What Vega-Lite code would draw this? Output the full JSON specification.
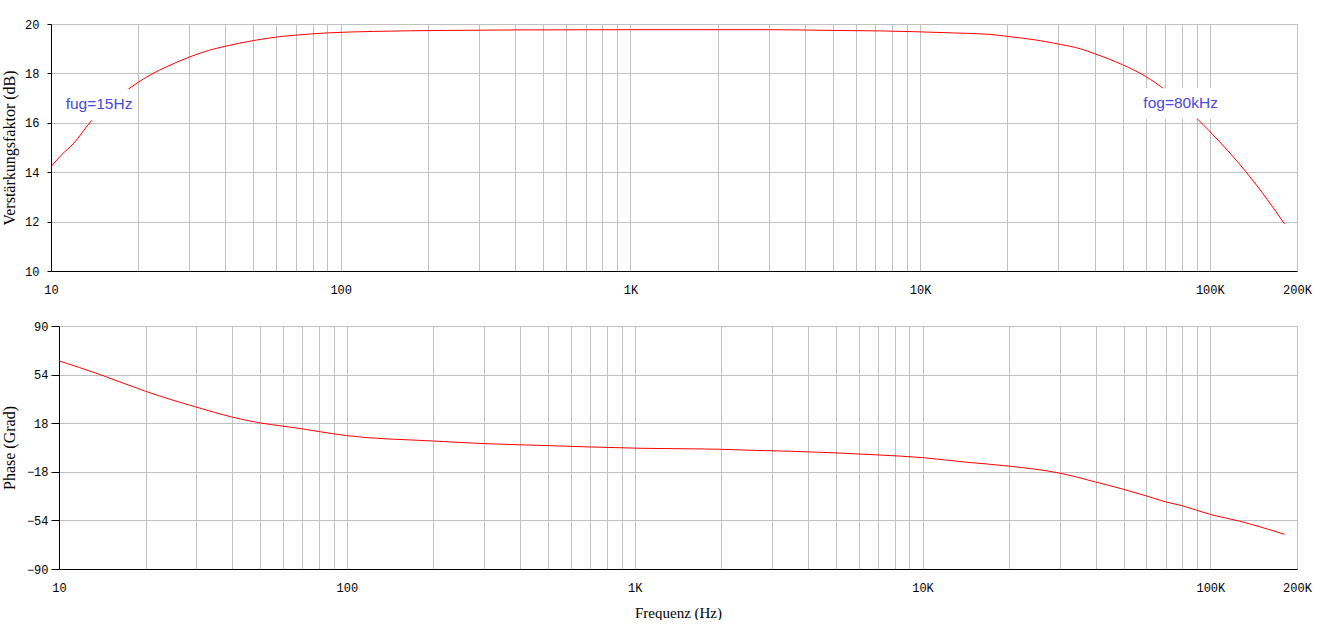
{
  "$schema": "https://vega.github.io/schema/vega-lite/v6.json",
  "background": "white",
  "padding": {"left": 1, "top": 18, "right": 0, "bottom": 0},
  "autosize": {"type": "pad"},
  "spacing": 25,
  "datasets": {
    "gain": [
      {"f": 10, "db": 14.22}, {"f": 10.83, "db": 14.68}, {"f": 12, "db": 15.18}, {"f": 13.67, "db": 16.03},
      {"f": 18, "db": 17.26}, {"f": 20, "db": 17.64}, {"f": 22.5, "db": 18.0}, {"f": 25, "db": 18.26},
      {"f": 30, "db": 18.66}, {"f": 35, "db": 18.93}, {"f": 40, "db": 19.1}, {"f": 50, "db": 19.33},
      {"f": 60, "db": 19.47}, {"f": 70, "db": 19.55}, {"f": 90, "db": 19.64}, {"f": 130, "db": 19.7},
      {"f": 234, "db": 19.74}, {"f": 400, "db": 19.76}, {"f": 1000, "db": 19.77}, {"f": 3000, "db": 19.77},
      {"f": 5000, "db": 19.74}, {"f": 7300, "db": 19.72}, {"f": 9500, "db": 19.69}, {"f": 12900, "db": 19.64},
      {"f": 17400, "db": 19.58}, {"f": 20000, "db": 19.5}, {"f": 25500, "db": 19.34}, {"f": 30000, "db": 19.19},
      {"f": 35900, "db": 18.99}, {"f": 40000, "db": 18.8}, {"f": 50000, "db": 18.35}, {"f": 60000, "db": 17.88},
      {"f": 70000, "db": 17.34}, {"f": 90000, "db": 16.19}, {"f": 100000, "db": 15.65}, {"f": 133000, "db": 14.03},
      {"f": 158000, "db": 12.89}, {"f": 181000, "db": 11.91}
    ],
    "phase": [
      {"f": 10, "deg": 64.2}, {"f": 13.9, "deg": 54}, {"f": 20, "deg": 41.6}, {"f": 30, "deg": 29.9},
      {"f": 40, "deg": 22.5}, {"f": 50, "deg": 18.2}, {"f": 60, "deg": 15.8}, {"f": 70, "deg": 13.8},
      {"f": 80, "deg": 11.8}, {"f": 100, "deg": 8.8}, {"f": 200, "deg": 4.8}, {"f": 300, "deg": 2.9},
      {"f": 500, "deg": 1.4}, {"f": 700, "deg": 0.4}, {"f": 1060, "deg": -0.6}, {"f": 1750, "deg": -1.1},
      {"f": 2000, "deg": -1.35}, {"f": 2600, "deg": -2.1}, {"f": 3500, "deg": -2.8}, {"f": 5000, "deg": -4.0},
      {"f": 7000, "deg": -5.5}, {"f": 10000, "deg": -7.5}, {"f": 14200, "deg": -10.9}, {"f": 20000, "deg": -13.8},
      {"f": 30000, "deg": -19.0}, {"f": 40000, "deg": -25.6}, {"f": 50000, "deg": -31.0}, {"f": 60000, "deg": -35.9},
      {"f": 70000, "deg": -40.3}, {"f": 80000, "deg": -43.2}, {"f": 100000, "deg": -49.6}, {"f": 126000, "deg": -54.5},
      {"f": 181000, "deg": -64.3}
    ],
    "notes": [
      {"label": "fug=15Hz", "f": 14.65, "db": 16.75, "f1": 10.8, "f2": 19.8, "db1": 16.1, "db2": 17.36},
      {"label": "fog=80kHz", "f": 79300, "db": 16.8, "f1": 56500, "f2": 111000, "db1": 16.17, "db2": 17.4}
    ]
  },
  "config": {
    "view": {"stroke": null},
    "axis": {
      "domainColor": "black",
      "domainWidth": 1,
      "gridColor": "#c0c0c0",
      "gridWidth": 1,
      "gridOpacity": 1,
      "tickColor": "black",
      "labelFont": "Liberation Mono",
      "labelFontSize": 12,
      "labelColor": "black",
      "titleFont": "Liberation Serif",
      "titleFontSize": 16,
      "titleFontWeight": "normal",
      "titleColor": "black"
    },
    "axisX": {
      "values": [10,20,30,40,50,60,70,80,90,100,200,300,400,500,600,700,800,900,1000,2000,3000,4000,5000,6000,7000,8000,9000,10000,20000,30000,40000,50000,60000,70000,80000,90000,100000,200000],
      "labelExpr": "datum.value == 10 ? '10' : datum.value == 100 ? '100' : datum.value == 1000 ? '1K' : datum.value == 10000 ? '10K' : datum.value == 100000 ? '100K' : datum.value == 200000 ? '200K' : ''",
      "tickOpacity": {"condition": {"test": "datum.value == 10 || datum.value == 100 || datum.value == 1000 || datum.value == 10000 || datum.value == 100000 || datum.value == 200000", "value": 1}, "value": 0},
      "tickSize": 5,
      "labelPadding": 8,
      "labelFlush": false,
      "labelOverlap": false
    }
  },
  "vconcat": [
    {
      "width": 1246,
      "height": 247,
      "layer": [
        {
          "data": {"name": "gain"},
          "mark": {"type": "line", "color": "#ff0000", "strokeWidth": 1, "interpolate": "monotone"},
          "encoding": {
            "x": {
              "field": "f", "type": "quantitative",
              "scale": {"type": "log", "domain": [10, 200000], "nice": false},
              "axis": {"title": null}
            },
            "y": {
              "field": "db", "type": "quantitative",
              "scale": {"domain": [10, 20], "nice": false, "zero": false},
              "axis": {
                "title": "Verstärkungsfaktor (dB)",
                "values": [10, 12, 14, 16, 18, 20],
                "tickSize": 4,
                "labelPadding": 8,
                "minExtent": 27,
                "maxExtent": 27,
                "titlePadding": 7
              }
            }
          }
        },
        {
          "data": {"name": "notes"},
          "mark": {"type": "rect", "fill": "white", "stroke": null},
          "encoding": {
            "x": {"field": "f1", "type": "quantitative", "axis": {"title": null}},
            "x2": {"field": "f2"},
            "y": {
              "field": "db1", "type": "quantitative",
              "axis": {
                "title": "Verstärkungsfaktor (dB)",
                "values": [10, 12, 14, 16, 18, 20],
                "tickSize": 4,
                "labelPadding": 8,
                "minExtent": 27,
                "maxExtent": 27,
                "titlePadding": 7
              }
            },
            "y2": {"field": "db2"}
          }
        },
        {
          "data": {"name": "notes"},
          "mark": {"type": "text", "font": "Liberation Sans", "fontSize": 15.5, "color": "#4848dd", "baseline": "middle", "align": "center"},
          "encoding": {
            "x": {"field": "f", "type": "quantitative", "axis": {"title": null}},
            "y": {
              "field": "db", "type": "quantitative",
              "axis": {
                "title": "Verstärkungsfaktor (dB)",
                "values": [10, 12, 14, 16, 18, 20],
                "tickSize": 4,
                "labelPadding": 8,
                "minExtent": 27,
                "maxExtent": 27,
                "titlePadding": 7
              }
            },
            "text": {"field": "label"}
          }
        }
      ]
    },
    {
      "width": 1246,
      "height": 243,
      "data": {"name": "phase"},
      "mark": {"type": "line", "color": "#ff0000", "strokeWidth": 1, "interpolate": "monotone"},
      "encoding": {
        "x": {
          "field": "f", "type": "quantitative",
          "scale": {"type": "log", "domain": [10, 200000], "nice": false, "range": [8, 1246]},
          "axis": {
            "title": "Frequenz (Hz)",
            "titleFontSize": 15,
            "titlePadding": 12
          }
        },
        "y": {
          "field": "deg", "type": "quantitative",
          "scale": {"domain": [-90, 90], "nice": false, "zero": false},
          "axis": {
            "title": "Phase (Grad)",
            "values": [-90, -54, -18, 18, 54, 90],
            "offset": -8,
            "tickSize": 8,
            "labelPadding": 3,
            "minExtent": 35,
            "maxExtent": 35,
            "titlePadding": 7
          }
        }
      }
    }
  ]
}
